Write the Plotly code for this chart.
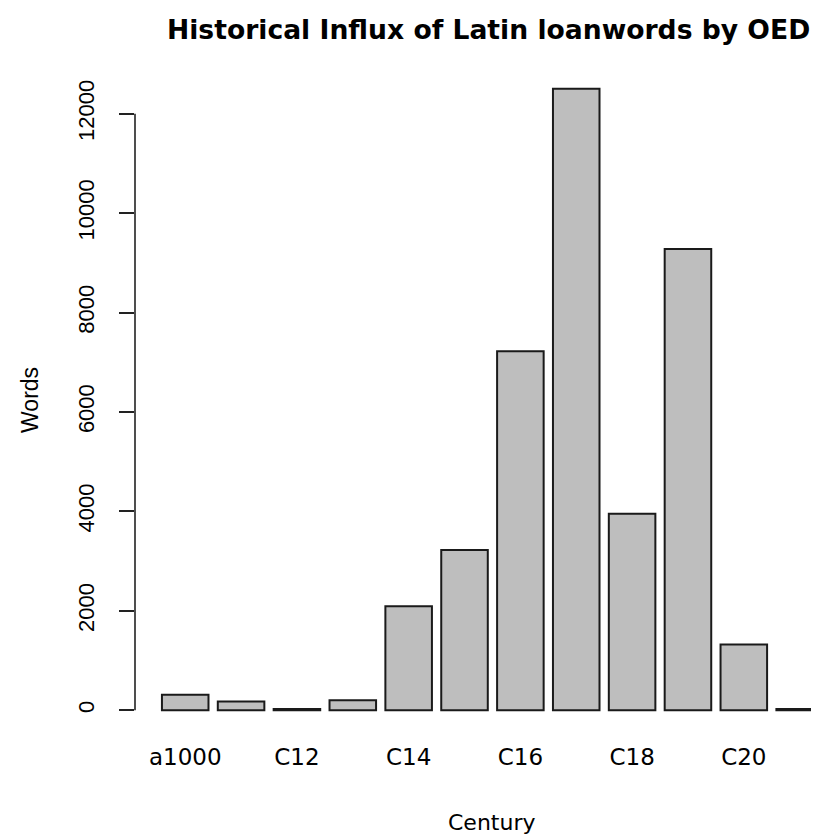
import plotly.graph_objects as go

categories = ["a1000", "C11", "C12", "C13", "C14", "C15", "C16", "C17", "C18", "C19", "C20", "C21"]
words = [310, 175, 25, 200, 2090, 3220, 7220, 12500, 3950, 9280, 1320, 25]
y_ticks = [0, 2000, 4000, 6000, 8000, 10000, 12000]
x_tick_labels = categories[::2]

title_text = "Historical Influx of Latin loanwords by OED"
x_title = "Century"
y_title = "Words"

# the page body has an 8px margin; size the figure so it ends at the window edge
OFF = 8
W, H = 819 - OFF, 836 - OFF
L, R, T, B = 135 - OFF, 0, 64.3 - OFF, 101.2

fig = go.Figure(go.Bar(
    x=categories, y=words,
    marker=dict(color="#BEBEBE", line=dict(color="#1a1a1a", width=2)),
))

fig.update_layout(
    width=W, height=H,
    margin=dict(l=L, r=R, t=T, b=B, pad=0),
    paper_bgcolor="white", plot_bgcolor="white",
    bargap=1 - 1 / 1.2,
    showlegend=False,
    font=dict(family="Liberation Sans, Arial", color="black"),
)
fig.update_xaxes(
    type="category", range=[-0.899, 11.346],
    tickmode="array", tickvals=x_tick_labels, ticktext=x_tick_labels,
    showline=False, showgrid=False, zeroline=False, ticks="",
    tickfont=dict(family="DejaVu Sans", size=23, color="black"),
    ticklabelstandoff=6,
)
fig.update_yaxes(
    range=[-500, 13000],
    tickmode="array", tickvals=y_ticks, ticktext=[str(v) for v in y_ticks],
    showline=False, showgrid=False, zeroline=False,
    ticks="outside", ticklen=15, tickwidth=1.6, tickcolor="#222",
    tickangle=-90,
    tickfont=dict(family="Liberation Sans, Arial", size=22, color="black"),
    ticklabelstandoff=16,
)
# R-style axis line spanning only the tick range
fig.add_shape(type="line", xref="paper", yref="y",
              x0=0, x1=0, y0=min(y_ticks), y1=max(y_ticks),
              line=dict(color="#222", width=1.6))

plot_w = W - L - R
plot_h = H - T - B
def px_x(p):
    return (p - OFF - L) / plot_w
def px_y(p):
    return (H - B - (p - OFF)) / plot_h

fig.add_annotation(text=title_text, xref="paper", yref="paper",
                   x=px_x(488), y=px_y(30), xanchor="center", yanchor="middle",
                   showarrow=False,
                   font=dict(family="DejaVu Sans", size=26.6, color="black", weight="bold"))
fig.add_annotation(text=x_title, xref="paper", yref="paper",
                   x=px_x(491), y=px_y(822), xanchor="center", yanchor="middle",
                   showarrow=False,
                   font=dict(family="DejaVu Sans", size=22, color="black"))
fig.add_annotation(text=y_title, xref="paper", yref="paper",
                   x=px_x(30), y=px_y(400), xanchor="center", yanchor="middle",
                   showarrow=False, textangle=-90,
                   font=dict(family="Liberation Sans, Arial", size=23, color="black"))

fig.write_html("out.html")
